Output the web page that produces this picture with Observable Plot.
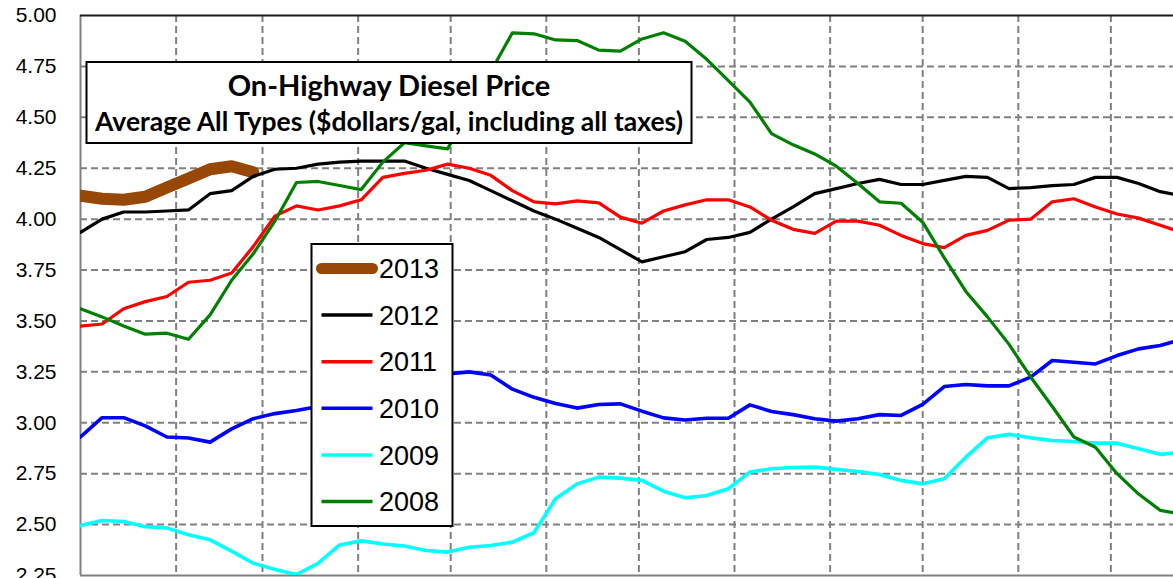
<!DOCTYPE html>
<html>
<head>
<meta charset="utf-8">
<script src="https://cdn.jsdelivr.net/npm/d3@7"></script>
<script src="https://cdn.jsdelivr.net/npm/@observablehq/plot@0.6"></script>
<style>
html, body { margin: 0; padding: 0; background: #fff; overflow: hidden; }
#chart svg { display: block; overflow: hidden; }
</style>
</head>
<body>
<div id="chart"></div>
<script>
// ---- data (weekly average on-highway diesel price, $/gal) ----
const years = ["2013", "2012", "2011", "2010", "2009", "2008"];
const seriesColors = ["#974706", "#000000", "#FF0000", "#0000FF", "#00FFFF", "#008000"];

const price2013 = [4.115, 4.10, 4.095, 4.11, 4.155, 4.20, 4.245, 4.26, 4.23];
const price2012 = [3.935, 4.00, 4.035, 4.035, 4.04, 4.045, 4.125, 4.14, 4.21, 4.245, 4.25, 4.27, 4.28,
  4.285, 4.285, 4.285, 4.25, 4.22, 4.19, 4.14, 4.09, 4.04, 4.00, 3.955, 3.91, 3.85, 3.79, 3.815, 3.84,
  3.90, 3.91, 3.935, 4.00, 4.06, 4.125, 4.15, 4.175, 4.195, 4.17, 4.17, 4.19, 4.21, 4.205, 4.15, 4.155,
  4.165, 4.17, 4.205, 4.205, 4.175, 4.135, 4.115];
const price2011 = [3.475, 3.485, 3.56, 3.595, 3.62, 3.69, 3.70, 3.735, 3.865, 4.015, 4.065, 4.045, 4.065,
  4.095, 4.205, 4.225, 4.24, 4.27, 4.25, 4.215, 4.14, 4.085, 4.075, 4.09, 4.08, 4.01, 3.98, 4.04, 4.07,
  4.095, 4.095, 4.06, 3.995, 3.95, 3.93, 3.99, 3.99, 3.97, 3.92, 3.88, 3.86, 3.92, 3.945, 3.995, 4.00,
  4.085, 4.10, 4.06, 4.025, 4.005, 3.97, 3.935];
const price2010 = [2.93, 3.025, 3.025, 2.985, 2.93, 2.925, 2.905, 2.97, 3.02, 3.045, 3.06, 3.08, 3.10,
  3.13, 3.16, 3.19, 3.22, 3.24, 3.25, 3.235, 3.165, 3.125, 3.095, 3.072, 3.09, 3.093, 3.057, 3.024, 3.014,
  3.022, 3.022, 3.088, 3.055, 3.04, 3.02, 3.008, 3.02, 3.04, 3.036, 3.09, 3.178, 3.188, 3.181, 3.181,
  3.224, 3.306, 3.297, 3.289, 3.33, 3.363, 3.379, 3.41];
const price2009 = [2.495, 2.52, 2.515, 2.49, 2.483, 2.45, 2.425, 2.37, 2.31, 2.28, 2.255, 2.31, 2.40,
  2.42, 2.405, 2.395, 2.373, 2.365, 2.389, 2.397, 2.414, 2.46, 2.627, 2.70, 2.733, 2.728, 2.717, 2.664,
  2.632, 2.643, 2.676, 2.758, 2.774, 2.78, 2.782, 2.771, 2.761, 2.746, 2.717, 2.70, 2.725, 2.831, 2.926,
  2.943, 2.926, 2.913, 2.908, 2.90, 2.90, 2.872, 2.845, 2.856];
const price2008 = [3.56, 3.52, 3.475, 3.435, 3.44, 3.41, 3.53, 3.70, 3.83, 3.99, 4.18, 4.185, 4.165,
  4.145, 4.28, 4.375, 4.36, 4.345, 4.535, 4.725, 4.915, 4.91, 4.88, 4.877, 4.83, 4.825, 4.885, 4.915,
  4.874, 4.785, 4.68, 4.575, 4.42, 4.365, 4.32, 4.26, 4.175, 4.085, 4.078, 3.985, 3.81, 3.645, 3.52,
  3.385, 3.225, 3.08, 2.93, 2.88, 2.75, 2.65, 2.57, 2.55];

const seriesValues = [price2013, price2012, price2011, price2010, price2009, price2008];

// month boundaries (day of year) for vertical grid lines
const monthStarts = [31, 59, 90, 120, 151, 181, 212, 243, 273, 304, 334];
const yTicks = [2.25, 2.50, 2.75, 3.00, 3.25, 3.50, 3.75, 4.00, 4.25, 4.50, 4.75, 5.00];
const yGrid = [2.50, 2.75, 3.00, 3.25, 3.50, 3.75, 4.00, 4.25, 4.50, 4.75];

const titleText = "On-Highway Diesel Price";
const subtitleText = "Average All Types ($dollars/gal, including all taxes)";

// long table built from the arrays: one row per weekly observation
const rows = years.map((yr, k) => seriesValues[k].map((v, i) => ({year: yr, day: i * 7, price: v})));

const W = 1173, H = 578;
const gridStyle = {stroke: "#808080", strokeOpacity: 1, strokeWidth: 2, strokeDasharray: "7,4"};

const chart = Plot.plot({
  width: W,
  height: H,
  marginLeft: 80,
  marginRight: 0,
  marginTop: 15,
  marginBottom: 3,
  style: {background: "#fff", color: "#000", fontFamily: "'Liberation Sans', Arial, sans-serif", fontSize: "21px"},
  x: {domain: [0, 365], range: [80, 1206], axis: null},
  y: {domain: [2.25, 5], range: [575, 15], label: null},
  marks: [
    Plot.gridY(yGrid, gridStyle),
    Plot.ruleX(monthStarts, gridStyle),
    Plot.ruleX([0], {stroke: "#808080", strokeWidth: 2}),
    Plot.ruleY([2.25], {stroke: "#808080", strokeWidth: 2}),
    Plot.ruleY([5], {stroke: "#1a1a1a", strokeWidth: 2}),
    Plot.axisY(yTicks, {tickSize: 0, tickPadding: 24, tickFormat: d3.format(".2f"), label: null, fontSize: 21}),
    ...rows.map((r, k) => Plot.line(r, {
      x: "day", y: "price",
      stroke: seriesColors[k],
      strokeWidth: k === 0 ? 12 : (k === 3 || k === 4 ? 3.6 : 3.2),
      strokeLinejoin: "round", strokeLinecap: "round",
      clip: true
    }))
  ]
});

document.getElementById("chart").appendChild(chart);

// ---- title box ----
const svg = d3.select(chart);
const tb = svg.append("g").attr("text-anchor", "middle");
tb.append("rect")
  .attr("x", 86.5).attr("y", 62).attr("width", 605).attr("height", 81)
  .attr("fill", "#fff").attr("stroke", "#000").attr("stroke-width", 2);
tb.append("text")
  .attr("x", 389).attr("y", 96).attr("text-anchor", "middle")
  .attr("font-family", "Lato, 'Open Sans', sans-serif").attr("font-weight", 700)
  .attr("font-size", 29).attr("fill", "#000").text(titleText);
tb.append("text")
  .attr("x", 389).attr("y", 131).attr("text-anchor", "middle")
  .attr("font-family", "Lato, 'Open Sans', sans-serif").attr("font-weight", 700)
  .attr("font-size", 26.5).attr("fill", "#000").text(subtitleText);

// ---- legend box ----
const lg = svg.append("g").attr("text-anchor", "start");
lg.append("rect")
  .attr("x", 311.5).attr("y", 244).attr("width", 141).attr("height", 282)
  .attr("fill", "#fff").attr("stroke", "#000").attr("stroke-width", 2);
years.forEach((yr, k) => {
  const cy = 268.5 + k * 46.6;
  lg.append("line")
    .attr("x1", 321.5).attr("x2", 372.5).attr("y1", cy).attr("y2", cy)
    .attr("stroke", seriesColors[k]).attr("stroke-width", k === 0 ? 11 : 3.5)
    .attr("stroke-linecap", k === 0 ? "round" : "butt");
  lg.append("text")
    .attr("x", 379).attr("y", cy + 9.7).attr("text-anchor", "start")
    .attr("font-family", "'Liberation Sans', Arial, sans-serif")
    .attr("font-size", 27).attr("fill", "#000").text(yr);
});
</script>
</body>
</html>
